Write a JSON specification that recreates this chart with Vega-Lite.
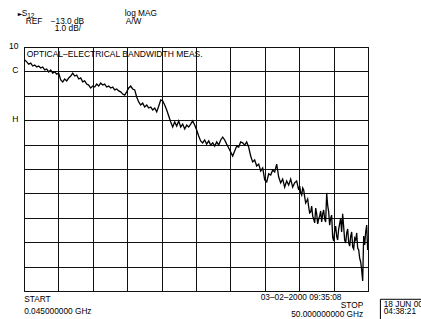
{
  "$schema": "https://vega.github.io/schema/vega-lite/v6.json",
  "autosize": {"type": "none"},
  "width": 344,
  "height": 244,
  "padding": {"left": 24, "top": 47, "right": 53, "bottom": 28},
  "background": "white",
  "config": {
    "view": {"stroke": "#000", "strokeWidth": 1},
    "text": {"font": "Liberation Sans", "fontSize": 8.3, "color": "#000", "baseline": "alphabetic", "align": "left"}
  },
  "resolve": {"axis": {"x": "independent", "y": "independent"}},
  "layer": [
    {
      "data": {"values": [
        {"f":0.15,"db":-8.53},{"f":0.44,"db":-8.61},{"f":0.73,"db":-8.70},{"f":1.02,"db":-8.66},{"f":1.31,"db":-8.78},{"f":1.60,"db":-8.74},{"f":1.89,"db":-8.82},{"f":2.18,"db":-8.78},{"f":2.47,"db":-8.86},{"f":2.76,"db":-8.82},
        {"f":3.05,"db":-8.94},{"f":3.34,"db":-8.90},{"f":3.63,"db":-9.02},{"f":3.92,"db":-8.94},{"f":4.21,"db":-9.07},{"f":4.50,"db":-9.02},{"f":4.79,"db":-9.11},{"f":5.08,"db":-9.07},{"f":5.38,"db":-9.35},{"f":5.67,"db":-9.43},
        {"f":5.96,"db":-9.31},{"f":6.25,"db":-9.39},{"f":6.54,"db":-9.27},{"f":6.83,"db":-9.19},{"f":7.12,"db":-9.07},{"f":7.41,"db":-9.19},{"f":7.70,"db":-9.15},{"f":7.99,"db":-9.31},{"f":8.28,"db":-9.27},{"f":8.57,"db":-9.43},
        {"f":8.86,"db":-9.39},{"f":9.15,"db":-9.52},{"f":9.44,"db":-9.56},{"f":9.73,"db":-9.68},{"f":10.02,"db":-9.60},{"f":10.31,"db":-9.64},{"f":10.60,"db":-9.52},{"f":10.89,"db":-9.60},{"f":11.18,"db":-9.48},{"f":11.47,"db":-9.56},
        {"f":11.76,"db":-9.52},{"f":12.05,"db":-9.64},{"f":12.35,"db":-9.60},{"f":12.64,"db":-9.68},{"f":12.93,"db":-9.64},{"f":13.22,"db":-9.76},{"f":13.51,"db":-9.72},{"f":13.80,"db":-9.80},{"f":14.09,"db":-9.84},{"f":14.38,"db":-9.93},
        {"f":14.67,"db":-9.97},{"f":14.96,"db":-9.84},{"f":15.25,"db":-9.68},{"f":15.54,"db":-9.60},{"f":15.83,"db":-9.72},{"f":16.12,"db":-9.76},{"f":16.41,"db":-10.05},{"f":16.70,"db":-10.25},{"f":16.99,"db":-10.38},{"f":17.28,"db":-10.30},
        {"f":17.57,"db":-10.46},{"f":17.87,"db":-10.38},{"f":18.16,"db":-10.50},{"f":18.45,"db":-10.46},{"f":18.74,"db":-10.58},{"f":19.03,"db":-10.50},{"f":19.32,"db":-10.66},{"f":19.61,"db":-10.42},{"f":19.90,"db":-10.17},{"f":20.19,"db":-10.21},
        {"f":20.48,"db":-10.38},{"f":20.77,"db":-10.58},{"f":21.06,"db":-10.83},{"f":21.35,"db":-11.07},{"f":21.64,"db":-11.28},{"f":21.93,"db":-11.07},{"f":22.22,"db":-11.24},{"f":22.51,"db":-11.03},{"f":22.80,"db":-11.28},{"f":23.09,"db":-11.16},
        {"f":23.38,"db":-11.36},{"f":23.67,"db":-11.20},{"f":23.96,"db":-11.28},{"f":24.25,"db":-11.16},{"f":24.54,"db":-11.03},{"f":24.83,"db":-11.20},{"f":25.12,"db":-11.40},{"f":25.41,"db":-11.65},{"f":25.70,"db":-11.85},{"f":25.99,"db":-11.93},
        {"f":26.28,"db":-11.81},{"f":26.57,"db":-11.98},{"f":26.87,"db":-11.85},{"f":27.16,"db":-12.02},{"f":27.45,"db":-11.93},{"f":27.74,"db":-12.06},{"f":28.03,"db":-11.89},{"f":28.32,"db":-12.02},{"f":28.61,"db":-11.81},{"f":28.90,"db":-11.69},
        {"f":29.19,"db":-11.81},{"f":29.48,"db":-11.98},{"f":29.77,"db":-12.14},{"f":30.06,"db":-12.30},{"f":30.35,"db":-12.47},{"f":30.64,"db":-12.26},{"f":30.93,"db":-12.06},{"f":31.22,"db":-12.10},{"f":31.51,"db":-11.89},{"f":31.80,"db":-11.93},
        {"f":32.09,"db":-12.02},{"f":32.38,"db":-11.89},{"f":32.67,"db":-12.10},{"f":32.96,"db":-12.47},{"f":33.25,"db":-12.71},{"f":33.54,"db":-12.63},{"f":33.84,"db":-12.88},{"f":34.13,"db":-12.80},{"f":34.42,"db":-13.08},{"f":34.71,"db":-12.96},
        {"f":35.00,"db":-13.45},{"f":35.29,"db":-13.53},{"f":35.58,"db":-13.20},{"f":35.87,"db":-13.25},{"f":36.16,"db":-13.04},{"f":36.45,"db":-13.12},{"f":36.74,"db":-12.80},{"f":37.03,"db":-13.33},{"f":37.32,"db":-13.57},{"f":37.61,"db":-13.41},
        {"f":37.90,"db":-13.74},{"f":38.19,"db":-13.49},{"f":38.48,"db":-13.66},{"f":38.77,"db":-13.41},{"f":39.06,"db":-13.74},{"f":39.35,"db":-13.57},{"f":39.64,"db":-13.49},{"f":39.93,"db":-13.86},{"f":40.23,"db":-13.98},{"f":40.52,"db":-13.78},
        {"f":40.81,"db":-14.15},{"f":41.10,"db":-14.31},{"f":41.39,"db":-14.56},{"f":41.68,"db":-14.76},{"f":41.97,"db":-14.93},{"f":42.26,"db":-15.21},{"f":42.55,"db":-14.84},{"f":42.84,"db":-15.05},{"f":43.13,"db":-14.72},{"f":43.42,"db":-14.84},
        {"f":43.71,"db":-15.05},{"f":44.00,"db":-13.98},{"f":44.29,"db":-14.76},{"f":44.58,"db":-15.01},{"f":44.87,"db":-15.79},{"f":45.16,"db":-15.54},{"f":45.45,"db":-15.75},{"f":45.74,"db":-15.46},{"f":46.03,"db":-15.01},{"f":46.32,"db":-14.84},
        {"f":46.61,"db":-15.91},{"f":46.91,"db":-15.62},{"f":47.20,"db":-16.03},{"f":47.49,"db":-15.75},{"f":47.78,"db":-16.20},{"f":48.07,"db":-15.83},{"f":48.36,"db":-15.62},{"f":48.65,"db":-16.32},{"f":48.94,"db":-16.81},{"f":49.23,"db":-17.59},
        {"f":49.52,"db":-16.11},{"f":49.81,"db":-15.30},{"f":49.95,"db":-16.32},
        {"f":40.08,"db":-13.70},{"f":40.37,"db":-14.07},{"f":40.66,"db":-13.86},{"f":40.95,"db":-14.39},{"f":41.24,"db":-14.23},{"f":41.53,"db":-14.80},{"f":41.82,"db":-14.52},{"f":42.11,"db":-15.05},{"f":42.40,"db":-14.60},{"f":42.69,"db":-15.25},
        {"f":42.98,"db":-14.93},{"f":43.27,"db":-15.17},{"f":43.56,"db":-14.68},{"f":43.85,"db":-15.17},{"f":44.14,"db":-14.48},{"f":44.43,"db":-15.30},{"f":44.72,"db":-14.89},{"f":45.01,"db":-15.95},{"f":45.30,"db":-15.34},{"f":45.59,"db":-15.91},
        {"f":45.88,"db":-15.25},{"f":46.17,"db":-15.58},{"f":46.46,"db":-15.34},{"f":46.76,"db":-16.03},{"f":47.05,"db":-15.46},{"f":47.34,"db":-16.16},{"f":47.63,"db":-15.58},{"f":47.92,"db":-16.28},{"f":48.21,"db":-15.91},{"f":48.50,"db":-16.24},
        {"f":48.79,"db":-16.65},{"f":49.08,"db":-17.14},{"f":49.37,"db":-15.75},{"f":49.66,"db":-15.58}
      ]},
      "mark": {"type": "line", "color": "#000", "strokeWidth": 1.3, "clip": true},
      "encoding": {
        "x": {"field": "f", "type": "quantitative",
          "scale": {"domain": [0.045, 50], "nice": false, "zero": false},
          "axis": {"title": null, "labels": false, "ticks": false, "domain": false, "grid": true, "gridColor": "#111", "gridOpacity": 1, "gridWidth": 1,
            "values": [0.045, 5.0405, 10.036, 15.0315, 20.027, 25.0225, 30.018, 35.0135, 40.009, 45.0045, 50]}},
        "y": {"field": "db", "type": "quantitative",
          "scale": {"domain": [-18, -8], "nice": false, "zero": false},
          "axis": {"title": null, "ticks": false, "domain": false, "grid": true, "gridColor": "#111", "gridOpacity": 1, "gridWidth": 1,
            "values": [-18, -17, -16, -15, -14, -13, -12, -11, -10, -9, -8],
            "labelExpr": "datum.value == -8 ? '10' : datum.value == -9 ? 'C' : datum.value == -11 ? 'H' : ''",
            "labelFont": "Liberation Sans", "labelFontSize": 8.5, "labelColor": "#000", "labelPadding": 6, "labelOffset": -1.5, "labelOverlap": false}}
      }
    },
    {"data": {"values": [{}]}, "mark": {"type": "text", "text": "►", "fontSize": 6, "font": "DejaVu Sans"}, "encoding": {"x": {"datum": -0.87, "axis": null}, "y": {"datum": -6.73, "axis": null}}},
    {"data": {"values": [{}]}, "mark": {"type": "text", "text": "S"}, "encoding": {"x": {"datum": -0.29, "axis": null}, "y": {"datum": -6.73, "axis": null}}},
    {"data": {"values": [{}]}, "mark": {"type": "text", "text": "12", "fontSize": 6.5}, "encoding": {"x": {"datum": 0.51, "axis": null}, "y": {"datum": -6.81, "axis": null}}},
    {"data": {"values": [{}]}, "mark": {"type": "text", "text": "REF"}, "encoding": {"x": {"datum": 0.29, "axis": null}, "y": {"datum": -7.04, "axis": null}}},
    {"data": {"values": [{}]}, "mark": {"type": "text", "text": "−13.0 dB"}, "encoding": {"x": {"datum": 3.92, "axis": null}, "y": {"datum": -7.04, "axis": null}}},
    {"data": {"values": [{}]}, "mark": {"type": "text", "text": "1.0 dB/"}, "encoding": {"x": {"datum": 4.50, "axis": null}, "y": {"datum": -7.36, "axis": null}}},
    {"data": {"values": [{}]}, "mark": {"type": "text", "text": "log MAG"}, "encoding": {"x": {"datum": 14.67, "axis": null}, "y": {"datum": -6.71, "axis": null}}},
    {"data": {"values": [{}]}, "mark": {"type": "text", "text": "A/W"}, "encoding": {"x": {"datum": 14.82, "axis": null}, "y": {"datum": -7.04, "axis": null}}},
    {"data": {"values": [{}]}, "mark": {"type": "text", "text": "OPTICAL–ELECTRICAL BANDWIDTH MEAS.", "fontSize": 8.5}, "encoding": {"x": {"datum": 0.44, "axis": null}, "y": {"datum": -8.39, "axis": null}}},
    {"data": {"values": [{}]}, "mark": {"type": "text", "text": "START"}, "encoding": {"x": {"datum": 0.07, "axis": null}, "y": {"datum": -18.45, "axis": null}}},
    {"data": {"values": [{}]}, "mark": {"type": "text", "text": "0.045000000 GHz"}, "encoding": {"x": {"datum": 0.07, "axis": null}, "y": {"datum": -18.94, "axis": null}}},
    {"data": {"values": [{}]}, "mark": {"type": "text", "text": "03–02–2000  09:35:08"}, "encoding": {"x": {"datum": 34.42, "axis": null}, "y": {"datum": -18.37, "axis": null}}},
    {"data": {"values": [{}]}, "mark": {"type": "text", "text": "STOP", "align": "right"}, "encoding": {"x": {"datum": 49.30, "axis": null}, "y": {"datum": -18.70, "axis": null}}},
    {"data": {"values": [{}]}, "mark": {"type": "text", "text": "50.000000000 GHz", "align": "right"}, "encoding": {"x": {"datum": 49.30, "axis": null}, "y": {"datum": -19.07, "axis": null}}},
    {"data": {"values": [{}]}, "mark": {"type": "rect", "fill": null, "stroke": "#000", "strokeWidth": 1}, "encoding": {"x": {"datum": 51.80, "axis": null}, "x2": {"datum": 60.4}, "y": {"datum": -18.34, "axis": null}, "y2": {"datum": -19.6}}},
    {"data": {"values": [{}]}, "mark": {"type": "text", "text": "18 JUN 00", "fontSize": 8.3}, "encoding": {"x": {"datum": 52.28, "axis": null}, "y": {"datum": -18.66, "axis": null}}},
    {"data": {"values": [{}]}, "mark": {"type": "text", "text": "04:38:21", "fontSize": 8.3}, "encoding": {"x": {"datum": 52.28, "axis": null}, "y": {"datum": -18.95, "axis": null}}}
  ]
}
